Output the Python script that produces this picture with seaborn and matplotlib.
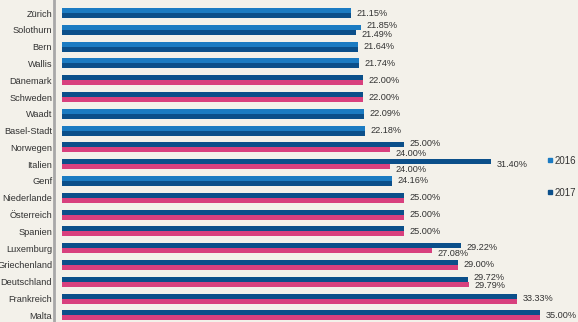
import matplotlib
matplotlib.use("Agg")
import matplotlib.pyplot as plt
from matplotlib.lines import Line2D
import seaborn as sns
import pandas as pd

# Gewinnsteuersätze (Kantone und Länder), 2016 vs. 2017
laender = ["Zürich", "Solothurn", "Bern", "Wallis", "Dänemark", "Schweden", "Waadt",
           "Basel-Stadt", "Norwegen", "Italien", "Genf", "Niederlande", "Österreich",
           "Spanien", "Luxemburg", "Griechenland", "Deutschland", "Frankreich", "Malta"]
satz_2016 = [21.15, 21.85, 21.64, 21.74, 22.00, 22.00, 22.09, 22.18, 25.00, 31.40,
             24.16, 25.00, 25.00, 25.00, 29.22, 29.00, 29.72, 33.33, 35.00]
satz_2017 = [21.15, 21.49, 21.64, 21.74, 22.00, 22.00, 22.09, 22.18, 24.00, 24.00,
             24.16, 25.00, 25.00, 25.00, 27.08, 29.00, 29.79, 33.33, 35.00]
kantone = ["Zürich", "Solothurn", "Bern", "Wallis", "Waadt", "Basel-Stadt", "Genf"]
jahre = ["2016", "2017"]

hellblau = "#1b7bc2"
dunkelblau = "#0b4f8a"
pink = "#d8407e"
papier = "#f3f1ea"
textfarbe = "#333333"

# vertikaler Versatz der Beschriftungen (oben, unten), wo sich die Jahre unterscheiden
label_versatz = {
    "Solothurn": (-0.24, 0.30),
    "Norwegen": (-0.24, 0.36),
    "Italien": (0.0, 0.33),
    "Luxemburg": (-0.06, 0.30),
    "Deutschland": (-0.28, 0.20),
}

df = pd.DataFrame({
    "Land": laender * 2,
    "Jahr": [jahre[0]] * len(laender) + [jahre[1]] * len(laender),
    "Satz": satz_2016 + satz_2017,
})

sns.set_theme(style="white")
plt.rcParams["font.family"] = ["Liberation Sans", "DejaVu Sans"]

W, H = 578, 322
fig = plt.figure(figsize=(W / 100, H / 100), dpi=100, facecolor=papier)
ax = fig.add_axes([62.3 / W, -0.0211, (W - 62.3) / W, 1.0224])
ax.set_facecolor(papier)

sns.barplot(data=df, y="Land", x="Satz", hue="Jahr", order=laender,
            hue_order=jahre, palette=[hellblau, dunkelblau], orient="h",
            width=0.6, dodge=True, saturation=1, ax=ax, legend=False)

# Länder: oberer Balken dunkelblau, unterer pink
for i, land in enumerate(laender):
    if land not in kantone:
        ax.containers[0][i].set_facecolor(dunkelblau)
        ax.containers[1][i].set_facecolor(pink)
for c in ax.containers:
    for p in c:
        p.set_edgecolor("none")

# Wertbeschriftungen
txt_kw = dict(fontsize=6.6, color=textfarbe, va="center", ha="left")
for i, (land, a, b) in enumerate(zip(laender, satz_2016, satz_2017)):
    if abs(a - b) < 1e-9:
        ax.text(a + 0.4, i, f"{a:.2f}%", **txt_kw)
    else:
        d_oben, d_unten = label_versatz.get(land, (-0.27, 0.27))
        ax.text(a + 0.4, i + d_oben, f"{a:.2f}%", **txt_kw)
        ax.text(b + 0.4, i + d_unten, f"{b:.2f}%", **txt_kw)

ax.set_xlim(0, (W - 62.3) / 13.65)
ax.set_ylim(18.8, -0.8)
ax.set_xlabel("")
ax.set_ylabel("")
ax.set_xticks([])
for s in ["top", "right", "bottom"]:
    ax.spines[s].set_visible(False)
ax.spines["left"].set_position(("outward", 5.8))
ax.spines["left"].set_color("#a8a8a8")
ax.spines["left"].set_linewidth(2)
ax.tick_params(axis="y", length=0, pad=1.5, labelsize=6.7, labelcolor=textfarbe)

handles = [Line2D([], [], marker="s", linestyle="none", markersize=3.5,
                  color=col) for col in (hellblau, dunkelblau)]
fig.legend(handles, jahre, loc="upper left", bbox_to_anchor=(542 / W, 1 - 151 / H),
           frameon=False, fontsize=6.9, labelcolor=textfarbe, handlelength=0.6,
           handletextpad=0.2, labelspacing=2.3, borderpad=0)

fig.savefig("out.png", dpi=100, facecolor=papier)
